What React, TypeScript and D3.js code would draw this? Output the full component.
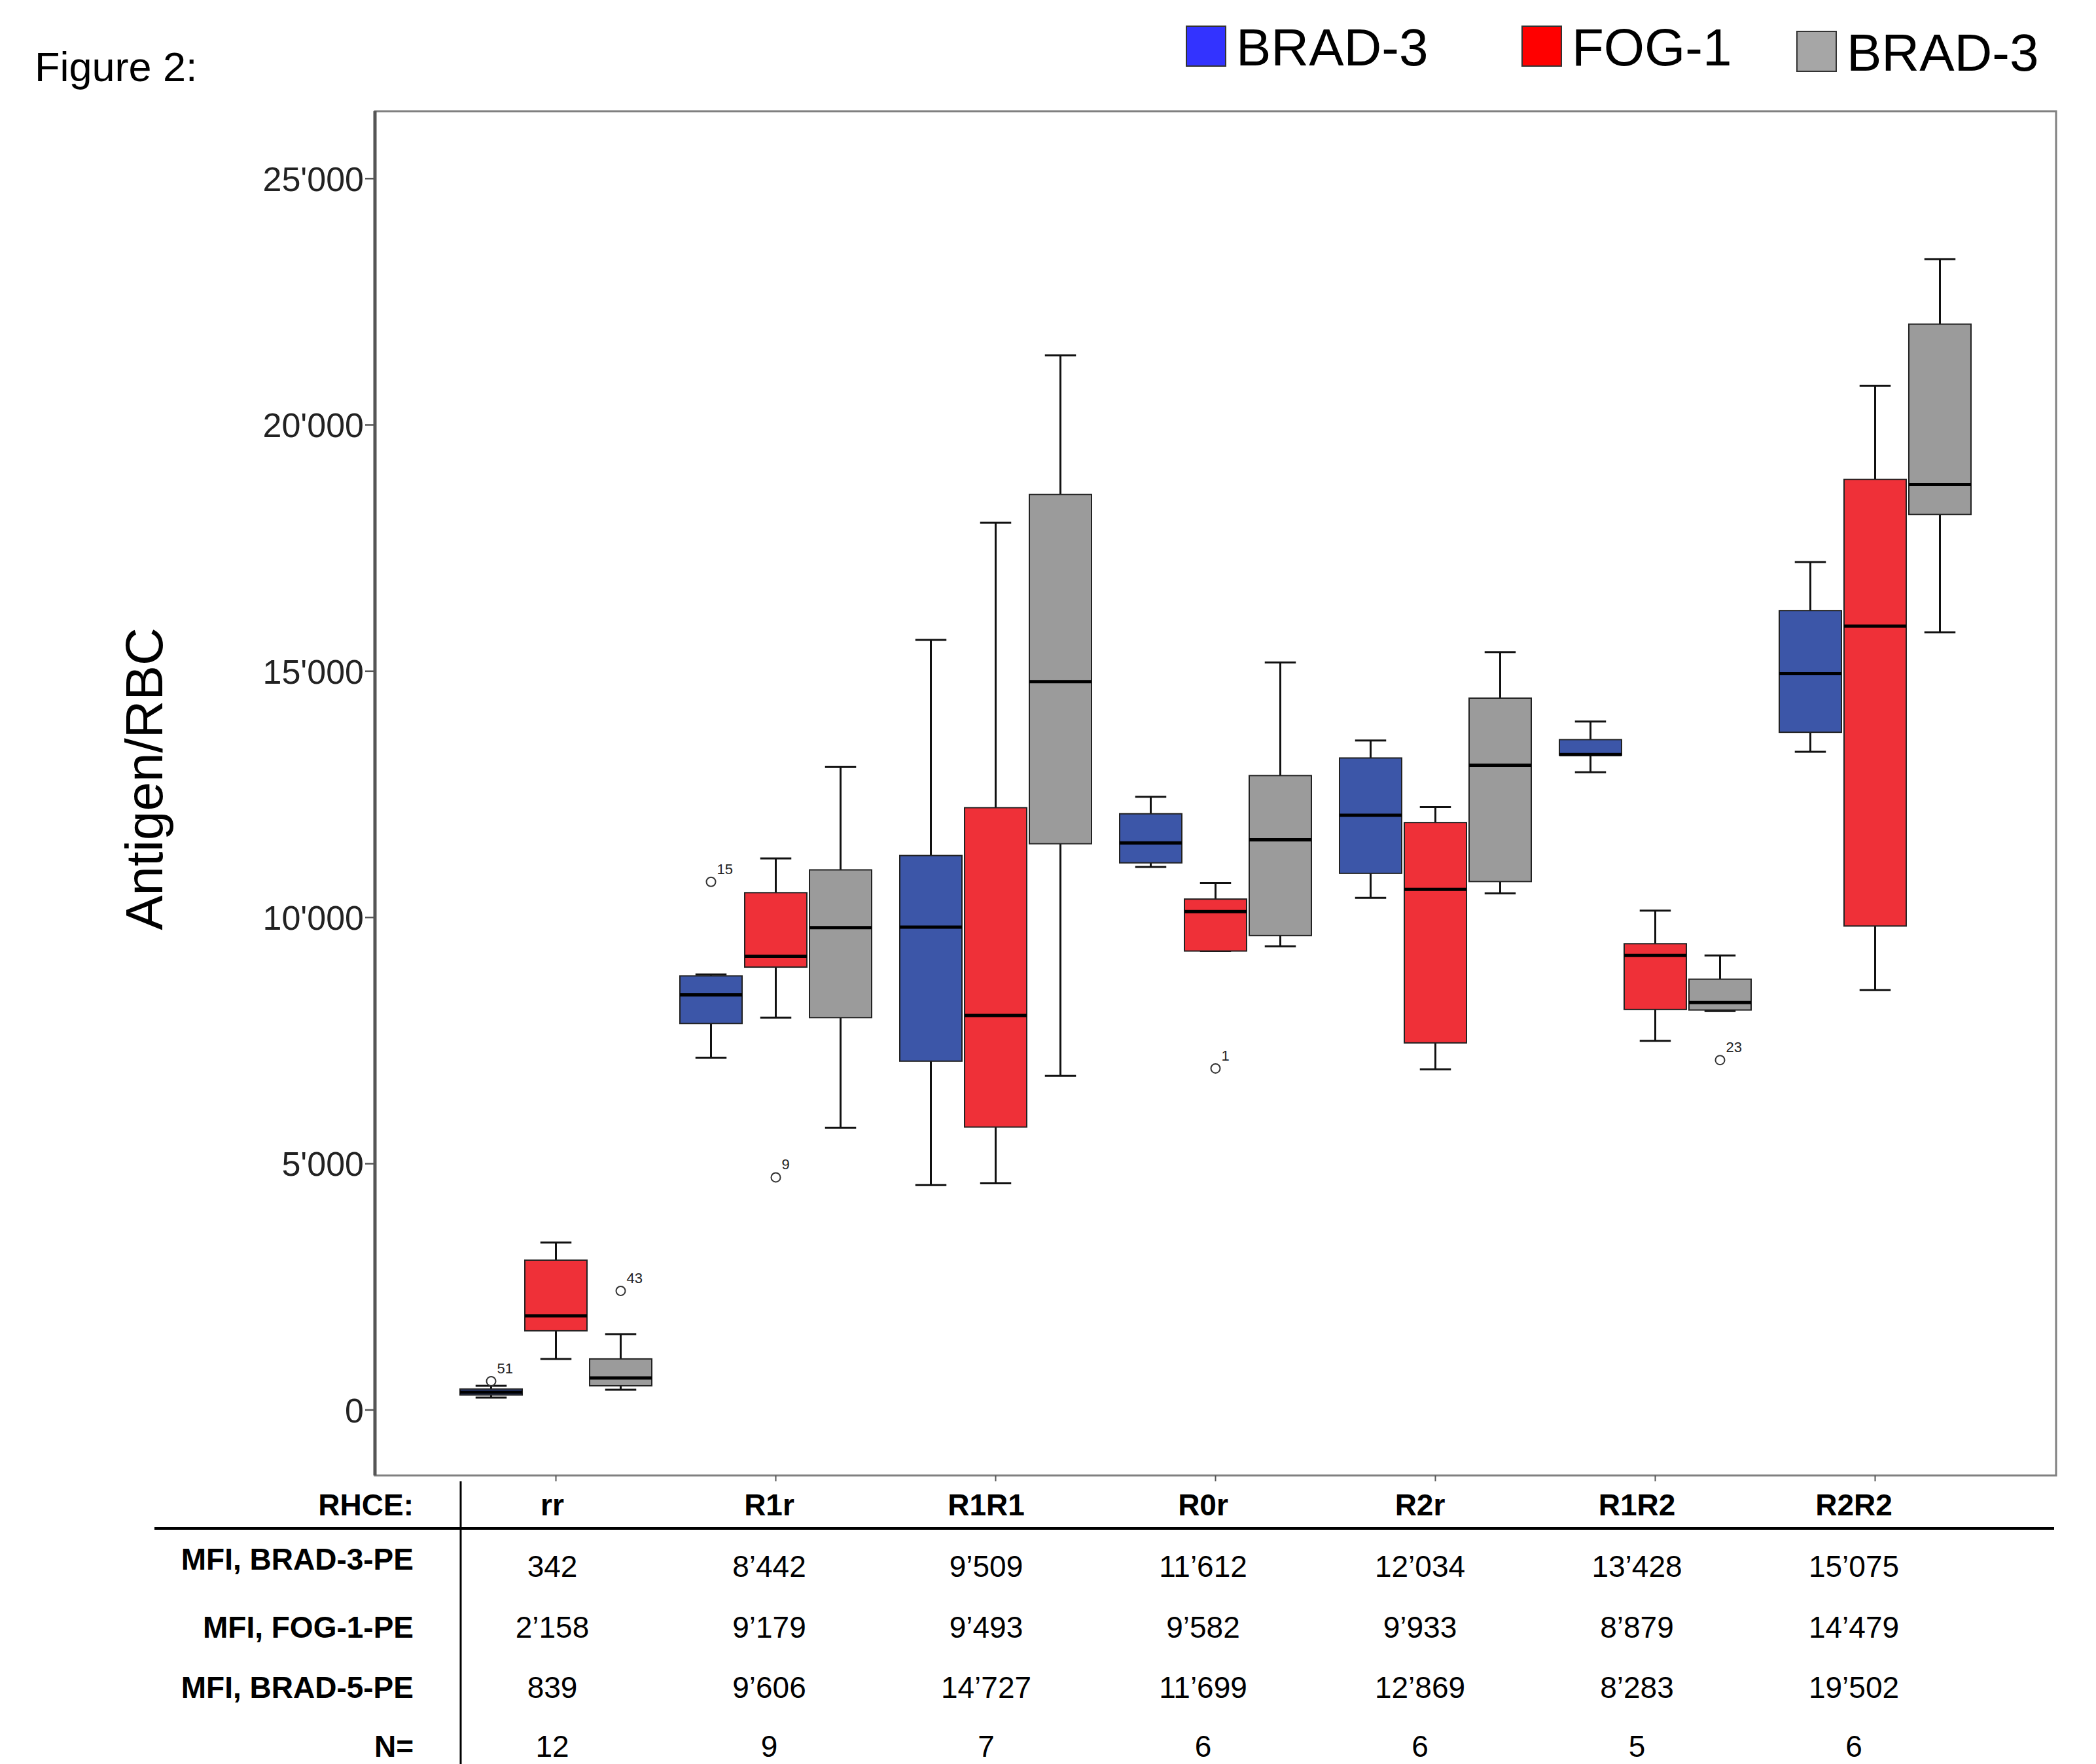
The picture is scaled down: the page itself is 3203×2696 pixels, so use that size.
//@ts-nocheck
import React from "react";
import * as d3 from "d3";

// RHCE phenotype groups
const categories = ["rr", "R1r", "R1R1", "R0r", "R2r", "R1R2", "R2R2"];
const series = ["BRAD-3", "FOG-1", "BRAD-5"];
const boxColors = ["#3c56a8", "#ef3038", "#9b9b9b"];

// box stats per category: [lowWhisker, q1, median, q3, highWhisker]
const brad3Boxes = [
  [252, 305, 359, 425, 491],
  [7153, 7847, 8429, 8814, 8843],
  [4566, 7082, 9803, 11257, 15637],
  [11025, 11109, 11512, 12105, 12449],
  [10397, 10895, 12075, 13238, 13594],
  [12950, 13296, 13306, 13611, 13977],
  [13363, 13760, 14950, 16231, 17218],
];
const fog1Boxes = [
  [1036, 1607, 1913, 3042, 3400],
  [7966, 8992, 9211, 10503, 11198],
  [4601, 5744, 8009, 12229, 18015],
  [9318, 9318, 10118, 10373, 10700],
  [6917, 7453, 10569, 11927, 12241],
  [7495, 8131, 9228, 9467, 10140],
  [8524, 9826, 15916, 18894, 20796],
];
const brad5Boxes = [
  [412, 491, 651, 1036, 1541],
  [5731, 7966, 9793, 10966, 13054],
  [6784, 11497, 14790, 18588, 21413],
  [9413, 9632, 11577, 12881, 15177],
  [10491, 10729, 13090, 14453, 15386],
  [8100, 8121, 8273, 8746, 9228],
  [15789, 18183, 18790, 22046, 23368],
];
const allBoxes = [brad3Boxes, fog1Boxes, brad5Boxes];

// outliers: [category, series index, value, case label]
const outliers = [
  ["rr", 0, 584, "51"],
  ["rr", 2, 2418, "43"],
  ["R1r", 0, 10723, "15"],
  ["R1r", 1, 4722, "9"],
  ["R0r", 1, 6934, "1"],
  ["R1R2", 2, 7104, "23"],
];

const yTicks = [0, 5000, 10000, 15000, 20000, 25000];

const legendLabels = ["BRAD-3", "FOG-1", "BRAD-3"];
const legendColors = ["#3333ff", "#ff0000", "#a6a6a6"];

// table under the plot
const rowLabels = ["MFI, BRAD-3-PE", "MFI, FOG-1-PE", "MFI, BRAD-5-PE", "N="];
const mfiBrad3 = ["342", "8’442", "9’509", "11’612", "12’034", "13’428", "15’075"];
const mfiFog1 = ["2’158", "9’179", "9’493", "9’582", "9’933", "8’879", "14’479"];
const mfiBrad5 = ["839", "9’606", "14’727", "11’699", "12’869", "8’283", "19’502"];
const nCounts = ["12", "9", "7", "6", "6", "5", "6"];
const tableRows = [mfiBrad3, mfiFog1, mfiBrad5, nCounts];

const W = 3203;
const H = 2696;
const frame = { left: 573, right: 3142, top: 170, bottom: 2255 };
const font = "'Liberation Sans', Arial, sans-serif";

export default function App() {
  const x = d3
    .scaleBand()
    .domain(categories)
    .range([frame.left, frame.right])
    .paddingInner(0)
    .paddingOuter(0.323);
  const inner = d3
    .scaleBand()
    .domain(series.map((_, i) => i))
    .range([-148.5, 148.5])
    .padding(0);
  const y = d3
    .scaleLinear()
    .domain([-1330, 26370])
    .range([frame.bottom, frame.top]);
  // table columns sit slightly tighter than the plot ticks
  const tx = d3.scalePoint().domain(categories).range([844, 2833]);

  const cx = (c) => x(c) + x.bandwidth() / 2;
  const bx = (c, s) => cx(c) + inner(s) + inner.bandwidth() / 2;
  const boxW = inner.bandwidth() - 4;
  const capW = boxW / 2;
  const fmt = (v) => d3.format(",")(v).replace(/,/g, "'");

  const rowBaselines = [2410, 2503, 2595, 2685];
  const labelBaselines = [2399, 2503, 2595, 2685];

  return (
    <svg
      width={W}
      height={H}
      style={{ position: "absolute", left: 0, top: 0, background: "#fff" }}
      fontFamily={font}
    >
      <rect x={0} y={0} width={W} height={H} fill="#fff" />
      <text x={53} y={124} fontSize={63}>
        Figure 2:
      </text>

      {/* legend */}
      {legendLabels.map((l, i) => {
        const lx = [1813, 2326, 2746][i];
        const ly = [40, 40, 48][i];
        return (
          <g key={"lg" + i}>
            <rect x={lx} y={ly} width={60} height={61} fill={legendColors[i]} stroke="#333" strokeWidth={2} />
            <text x={lx + 76} y={ly + 60} fontSize={80}>
              {l}
            </text>
          </g>
        );
      })}

      {/* frame */}
      <rect
        x={frame.left}
        y={frame.top}
        width={frame.right - frame.left}
        height={frame.bottom - frame.top}
        fill="none"
        stroke="#808080"
        strokeWidth={3}
      />
      <line x1={frame.left} x2={frame.left} y1={frame.top} y2={frame.bottom} stroke="#555" strokeWidth={5} />

      {/* y axis */}
      {yTicks.map((t) => (
        <g key={"yt" + t}>
          <line x1={frame.left - 15} x2={frame.left} y1={y(t)} y2={y(t)} stroke="#555" strokeWidth={2.5} />
          <text x={556} y={y(t)} dy="0.36em" textAnchor="end" fontSize={52} fill="#222">
            {fmt(t)}
          </text>
        </g>
      ))}
      <text
        transform={`translate(248, ${(frame.top + frame.bottom) / 2 - 22}) rotate(-90)`}
        textAnchor="middle"
        fontSize={80}
      >
        Antigen/RBC
      </text>

      {/* x ticks */}
      {categories.map((c) => (
        <line key={"xt" + c} x1={cx(c)} x2={cx(c)} y1={frame.bottom} y2={frame.bottom + 9} stroke="#555" strokeWidth={2} />
      ))}

      {/* boxes */}
      {allBoxes.map((boxes, s) =>
        boxes.map((b, ci) => {
          const c = categories[ci];
          const px = bx(c, s);
          const [lo, q1, med, q3, hi] = b;
          return (
            <g key={`b${s}-${ci}`}>
              <line x1={px} x2={px} y1={y(hi)} y2={y(q3)} stroke="#111" strokeWidth={3} />
              <line x1={px} x2={px} y1={y(q1)} y2={y(lo)} stroke="#111" strokeWidth={3} />
              <line x1={px - capW / 2} x2={px + capW / 2} y1={y(hi)} y2={y(hi)} stroke="#111" strokeWidth={3} />
              <line x1={px - capW / 2} x2={px + capW / 2} y1={y(lo)} y2={y(lo)} stroke="#111" strokeWidth={3} />
              <rect
                x={px - boxW / 2}
                y={y(q3)}
                width={boxW}
                height={Math.max(1, y(q1) - y(q3))}
                fill={boxColors[s]}
                stroke="#222"
                strokeWidth={2}
              />
              <line x1={px - boxW / 2} x2={px + boxW / 2} y1={y(med)} y2={y(med)} stroke="#000" strokeWidth={5} />
            </g>
          );
        })
      )}

      {/* outliers */}
      {outliers.map(([c, s, v, lab], i) => (
        <g key={"o" + i}>
          <circle cx={bx(c, s)} cy={y(v)} r={7} fill="#fff" stroke="#333" strokeWidth={2} />
          <text x={bx(c, s) + 9} y={y(v) - 12} fontSize={22} fill="#222">
            {lab}
          </text>
        </g>
      ))}

      {/* table */}
      <line x1={704} x2={704} y1={2264} y2={H} stroke="#000" strokeWidth={3} />
      <line x1={236} x2={3139} y1={2336} y2={2336} stroke="#000" strokeWidth={4} />
      <text x={632} y={2316} textAnchor="end" fontSize={46} fontWeight="bold">
        RHCE:
      </text>
      {categories.map((c) => (
        <text key={"h" + c} x={tx(c)} y={2316} textAnchor="middle" fontSize={46} fontWeight="bold">
          {c}
        </text>
      ))}
      {rowLabels.map((l, r) => (
        <g key={"r" + r}>
          <text x={632} y={labelBaselines[r]} textAnchor="end" fontSize={46} fontWeight="bold">
            {l}
          </text>
          {tableRows[r].map((v, ci) => (
            <text key={ci} x={tx(categories[ci])} y={rowBaselines[r]} textAnchor="middle" fontSize={46}>
              {v}
            </text>
          ))}
        </g>
      ))}
    </svg>
  );
}
